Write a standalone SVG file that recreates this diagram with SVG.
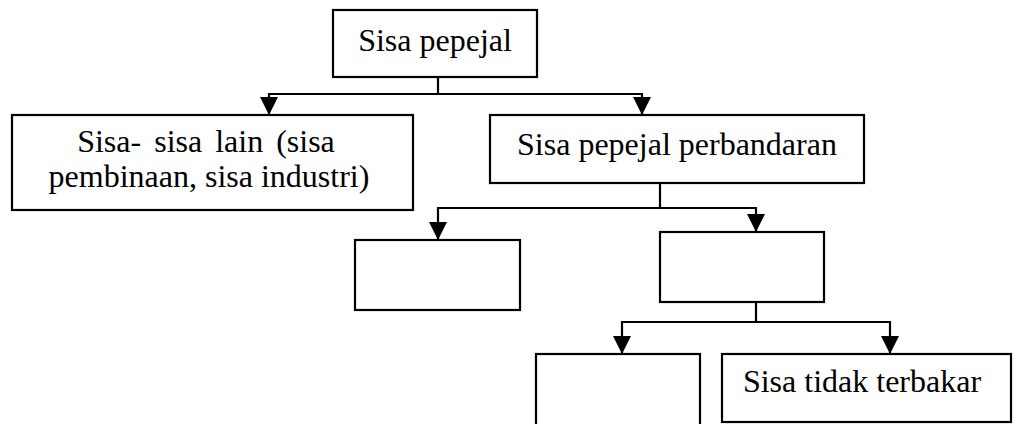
<svg xmlns="http://www.w3.org/2000/svg" width="1021" height="424" viewBox="0 0 1021 424">
<style>
.box{fill:#fff;stroke:#000;stroke-width:2.2}
.lbl{font-family:"Liberation Serif","Times New Roman",serif;font-size:32px;fill:#000}
.conn{fill:none;stroke:#000;stroke-width:2.2}
</style>
<defs>
<marker id="arr" markerUnits="userSpaceOnUse" markerWidth="18" markerHeight="18" viewBox="0 0 18 18" refX="18" refY="9" orient="auto">
<path d="M0,0 L18,9 L0,18 z" fill="#000"/>
</marker>
</defs>
<rect width="1021" height="424" fill="#fff"/>
<g id="connectors">
<path class="conn" d="M438,77 V94 H269 V115" marker-end="url(#arr)"/>
<path class="conn" d="M438,94 H642 V115" marker-end="url(#arr)"/>
<path class="conn" d="M660,183 V208 H438 V240" marker-end="url(#arr)"/>
<path class="conn" d="M660,208 H756 V232" marker-end="url(#arr)"/>
<path class="conn" d="M756,302 V322 H622 V354" marker-end="url(#arr)"/>
<path class="conn" d="M756,322 H890 V354" marker-end="url(#arr)"/>
</g>
<g id="n-sisa-pepejal">
<rect class="box" x="333" y="10" width="204" height="67"/>
<text class="lbl" x="435" y="51" text-anchor="middle">Sisa pepejal</text>
</g>
<g id="n-sisa-lain">
<rect class="box" x="12" y="115" width="401" height="95"/>
<text class="lbl" x="206" y="152" text-anchor="middle" word-spacing="5">Sisa- sisa lain (sisa</text>
<text class="lbl" x="209" y="187" text-anchor="middle">pembinaan, sisa industri)</text>
</g>
<g id="n-perbandaran">
<rect class="box" x="490" y="115" width="374" height="68"/>
<text class="lbl" x="677" y="155" text-anchor="middle">Sisa pepejal perbandaran</text>
</g>
<g id="n-empty-left">
<rect class="box" x="355" y="240" width="165" height="70"/>
</g>
<g id="n-empty-middle">
<rect class="box" x="660" y="232" width="164" height="70"/>
</g>
<g id="n-empty-bottom">
<rect class="box" x="536" y="354" width="164" height="80"/>
</g>
<g id="n-tidak-terbakar">
<rect class="box" x="722" y="354" width="289" height="68"/>
<text class="lbl" x="862" y="392" text-anchor="middle">Sisa tidak terbakar</text>
</g>
</svg>
